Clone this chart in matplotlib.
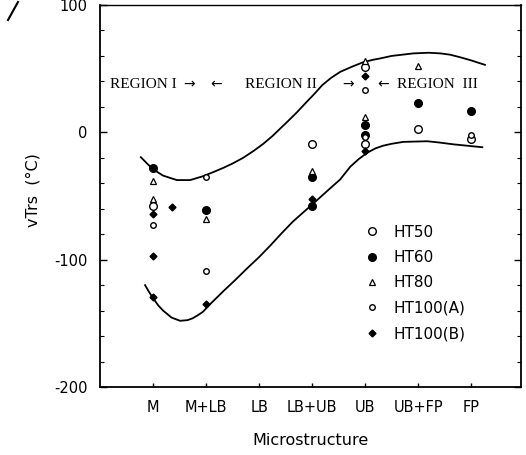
import matplotlib
matplotlib.use("Agg")
import matplotlib.pyplot as plt
from matplotlib.lines import Line2D

plt.rcParams["axes.unicode_minus"] = False

categories = ["M", "M+LB", "LB", "LB+UB", "UB", "UB+FP", "FP"]

# positions: 1 = M, 2 = M+LB, ... 7 = FP
ht50_x = [1, 4, 5, 5, 6, 7]
ht50_y = [-58, -9, -9, 51, 3, -5]
ht60_x = [1, 2, 4, 4, 5, 5, 6, 7]
ht60_y = [-28, -61, -35, -58, 6, -2, 23, 17]
ht80_x = [1, 1, 2, 4, 5, 5, 6]
ht80_y = [-38, -52, -68, -30, 12, 56, 52]
ht100a_x = [1, 2, 2, 5, 5, 7]
ht100a_y = [-73, -35, -109, 33, -4, -2]
ht100b_x = [1, 1, 1, 1.36, 2, 4, 5, 5]
ht100b_y = [-64, -97, -129, -59, -135, -52, 44, -15]

upper_x = [0.77, 0.90, 1.00, 1.19, 1.45, 1.70, 1.94, 2.15, 2.32, 2.50, 2.70,
           2.90, 3.08, 3.25, 3.40, 3.55, 3.72, 3.90, 4.05, 4.19, 4.35, 4.53,
           4.75, 4.96, 5.15, 5.28, 5.50, 5.91, 6.20, 6.42, 6.60, 6.79, 7.00, 7.26]
upper_y = [-19.5, -25, -29, -34, -37.5, -37.5, -34.5, -31, -28, -24.5, -20,
           -14.5, -9, -3, 3, 9, 16, 24, 30.5, 37, 42.5, 47.5,
           51.5, 55, 57, 58, 60, 62, 62.5, 62, 61, 59, 56.5, 53]
lower_x = [0.85, 0.92, 0.98, 1.10, 1.19, 1.35, 1.51, 1.65, 1.75, 1.85, 1.94,
           2.10, 2.32, 2.55, 2.77, 3.00, 3.21, 3.42, 3.64, 3.83, 4.02, 4.18,
           4.34, 4.53, 4.72, 4.88, 5.04, 5.20, 5.34, 5.50, 5.72, 6.17, 6.40,
           6.66, 7.21]
lower_y = [-120, -125, -129, -136, -140, -145.5, -148, -147.5, -146, -143.5, -141,
           -134, -125, -116, -107, -98, -89, -79.5, -70, -63, -56, -50,
           -44, -37, -27, -21, -16, -12.5, -10.5, -9, -7.5, -7, -8,
           -9.4, -11.7]

fig = plt.figure(figsize=(5.26, 4.55), dpi=100)
ax = fig.add_axes([100/526, 1-387/455, 421/526, 382/455])

ax.plot(upper_x, upper_y, color="black", lw=1.3, solid_joinstyle="round")
ax.plot(lower_x, lower_y, color="black", lw=1.3, solid_joinstyle="round")

ax.plot(ht50_x, ht50_y, ls="none", marker="o", ms=5.5, mfc="white", mec="black", mew=1.0, label="HT50")
ax.plot(ht60_x, ht60_y, ls="none", marker="o", ms=5.5, mfc="black", mec="black", label="HT60")
ax.plot(ht80_x, ht80_y, ls="none", marker="^", ms=5, mfc="white", mec="black", mew=0.9, label="HT80")
ax.plot(ht100a_x, ht100a_y, ls="none", marker="o", ms=4, mfc="white", mec="black", mew=1.0, label="HT100(A)")
ax.plot(ht100b_x, ht100b_y, ls="none", marker="D", ms=3.5, mfc="black", mec="black", label="HT100(B)")

ax.set_xlim(0, 7.94)
ax.set_ylim(-200, 100)
ax.set_xticks(range(1, 8))
ax.set_xticklabels(categories)
ax.set_yticks([-200, -100, 0, 100])
ax.set_yticks(range(-200, 101, 20), minor=True)
ax.tick_params(axis="both", which="major", direction="in", length=5, width=1.0,
               labelsize=10.5, pad=9)
ax.tick_params(axis="y", which="both", right=True)
ax.tick_params(axis="y", which="minor", direction="in", length=3, width=0.8)
ax.tick_params(axis="x", which="major", length=3)
for s in ax.spines.values():
    s.set_linewidth(1.3)
ax.spines["top"].set_linewidth(1.0)

ax.set_xlabel("Microstructure", fontsize=11.5, labelpad=13)
ax.set_ylabel("vTrs  (°C)", fontsize=11.5)
ax.yaxis.set_label_coords(-0.141, 0.515)

serif = ["Liberation Serif", "DejaVu Serif"]
ty = 37.5
ax.text(0.18, ty, "REGION I", family=serif, fontsize=11, va="center", ha="left")
ax.text(1.57, ty, "\u2192", family="DejaVu Sans", fontsize=10, va="center", ha="left")
ax.text(2.08, ty, "\u2190", family="DejaVu Sans", fontsize=10, va="center", ha="left")
ax.text(2.74, ty, "REGION II", family=serif, fontsize=11, va="center", ha="left")
ax.text(4.57, ty, "\u2192", family="DejaVu Sans", fontsize=10, va="center", ha="left")
ax.text(5.23, ty, "\u2190", family="DejaVu Sans", fontsize=10, va="center", ha="left")
ax.text(5.60, ty, "REGION  III", family=serif, fontsize=11, va="center", ha="left")

leg = ax.legend(loc="upper left", bbox_to_anchor=(0.614, 0.441), frameon=False,
                fontsize=11, handlelength=1.0, handletextpad=0.9, labelspacing=0.68,
                borderaxespad=0)

fig.add_artist(Line2D([8/526, 18/526], [1-20/455, 1-2/455], color="black", lw=1.5))

fig.savefig("out.png", dpi=100)
